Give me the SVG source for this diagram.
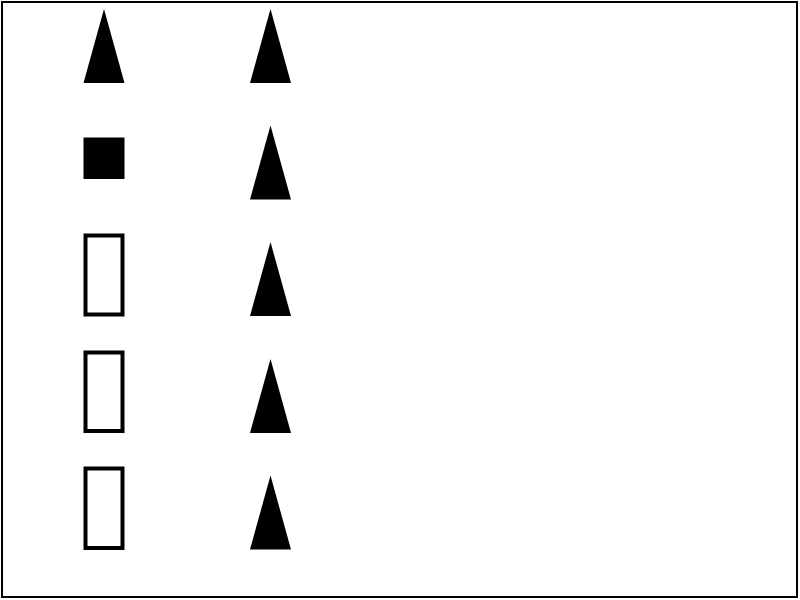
<svg xmlns="http://www.w3.org/2000/svg" width="800" height="600" viewBox="0 0 800 600">
<style>
.tri{fill:#000}
.box{fill:none;stroke:#000;stroke-width:4}
</style>
<defs>
<polygon id="t" points="20.5,0 41,74 0,74"/>
</defs>
<rect x="0" y="0" width="800" height="600" fill="#fff"/>
<rect x="2" y="2" width="795" height="595" fill="none" stroke="#000" stroke-width="2"/>
<g id="left-1"><use href="#t" class="tri" x="83.5" y="9"/></g>
<g id="left-2"><rect x="83.5" y="137.5" width="41" height="41.5" class="tri"/></g>
<g id="left-3"><rect x="85.5" y="235.5" width="37" height="79" class="box"/></g>
<g id="left-4"><rect x="85.5" y="352.5" width="37" height="78.5" class="box"/></g>
<g id="left-5"><rect x="85.5" y="468.5" width="37" height="79.5" class="box"/></g>
<g id="right-1"><use href="#t" class="tri" x="250" y="9"/></g>
<g id="right-2"><use href="#t" class="tri" x="250" y="125.5"/></g>
<g id="right-3"><use href="#t" class="tri" x="250" y="242"/></g>
<g id="right-4"><use href="#t" class="tri" x="250" y="359"/></g>
<g id="right-5"><use href="#t" class="tri" x="250" y="475.5"/></g>
</svg>
